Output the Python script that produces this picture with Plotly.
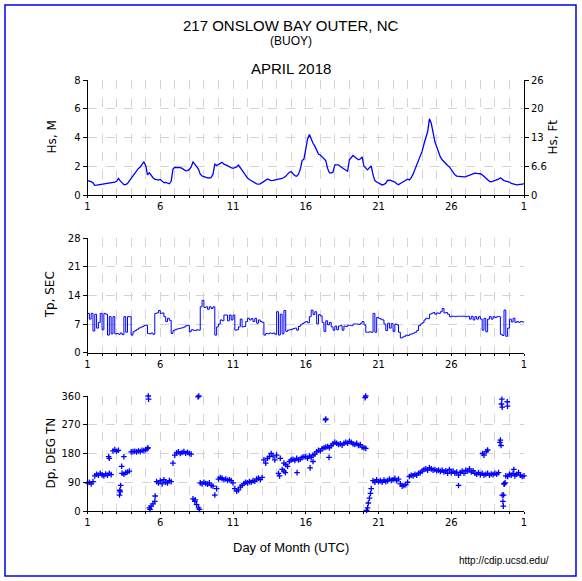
import numpy as np
import plotly.graph_objects as go

# ---------------- data ----------------
day = np.arange(1, 31.0001, 0.125)  # 3-hourly samples, April 1 .. May 1

hs_m = [
    1.00, 0.97, 0.93, 0.85, 0.67, 0.68, 0.70, 0.72,
    0.74, 0.75, 0.78, 0.79, 0.80, 0.82, 0.87, 0.90,
    0.95, 1.15, 0.98, 0.85, 0.72, 0.72, 0.80, 0.98,
    1.16, 1.35, 1.50, 1.68, 1.85, 1.95, 2.10, 2.30,
    2.05, 1.40, 1.55, 1.35, 1.20, 1.10, 1.06, 1.04,
    1.08, 0.95, 0.86, 0.88, 0.82, 0.78, 0.95, 1.80,
    1.93, 1.92, 1.95, 1.90, 1.85, 1.75, 1.68, 1.70,
    1.78, 1.95, 2.30, 2.15, 2.00, 1.80, 1.45, 1.32,
    1.28, 1.22, 1.20, 1.18, 1.22, 1.45, 2.15, 2.05,
    2.10, 2.20, 2.28, 2.15, 2.10, 2.02, 1.98, 1.90,
    1.86, 1.92, 1.95, 2.08, 1.90, 1.75, 1.50, 1.35,
    1.18, 1.08, 1.00, 0.92, 0.85, 0.78, 0.76, 0.78,
    0.86, 0.95, 1.05, 1.12, 1.05, 1.00, 1.02, 1.04,
    1.04, 1.06, 1.09, 1.15, 1.22, 1.30, 1.45, 1.58,
    1.62, 1.45, 1.35, 1.30, 1.45, 1.80, 2.40, 2.50,
    3.13, 3.90, 4.20, 3.85, 3.60, 3.40, 3.05, 2.85,
    2.78, 2.65, 2.55, 2.40, 1.85, 1.55, 1.52, 1.60,
    2.09, 2.12, 2.10, 1.98, 1.90, 1.82, 1.72, 1.65,
    2.45, 2.62, 2.75, 2.65, 2.55, 2.45, 2.50, 2.65,
    2.00, 1.85, 1.75, 1.90, 2.02, 1.40, 1.00, 0.90,
    0.82, 0.75, 0.70, 0.74, 0.82, 1.02, 1.04, 1.00,
    0.97, 0.90, 0.78, 0.72, 0.80, 0.88, 0.93, 1.02,
    1.10, 1.05, 1.20, 1.45, 1.75, 2.10, 2.45, 2.75,
    3.05, 3.55, 3.95, 4.40, 5.30, 5.00, 4.35, 3.70,
    3.36, 3.00, 2.65, 2.45, 2.30, 2.15, 2.05, 1.95,
    1.78, 1.55, 1.40, 1.32, 1.30, 1.28, 1.30, 1.26,
    1.28, 1.32, 1.38, 1.42, 1.48, 1.52, 1.50, 1.50,
    1.48, 1.40, 1.28, 1.15, 1.02, 0.95, 0.92, 0.96,
    0.98, 1.05, 1.10, 1.20, 1.10, 1.00, 0.97, 0.94,
    0.90, 0.80, 0.75, 0.72, 0.70, 0.72, 0.76, 0.76,
    0.78,
]

tp_sec = [
    9.6, 8.2, 9.6, 5.3, 9.4, 6.0, 7.4, 9.6,
    5.6, 9.6, 9.4, 4.3, 8.8, 4.6, 8.8, 4.6,
    4.7, 4.5, 4.8, 4.4, 8.8, 5.0, 8.8, 8.8,
    4.3, 5.1, 5.4, 5.7, 6.0, 6.2, 6.4, 6.6,
    6.7, 4.7, 4.6, 4.8, 4.5, 9.6, 9.7, 10.3,
    9.6, 9.7, 8.8, 7.6, 8.4, 7.9, 4.7, 5.4,
    5.6, 5.8, 5.9, 6.0, 6.1, 6.3, 6.6, 6.7,
    5.1, 5.6, 5.5, 5.4, 5.6, 5.5, 11.2, 12.8,
    11.0, 11.2, 10.6, 11.2, 10.8, 11.2, 4.3, 6.3,
    7.0, 8.0, 7.8, 9.2, 9.2, 7.8, 9.2, 8.0,
    9.2, 5.5, 5.6, 6.3, 8.2, 6.3, 6.4, 7.6,
    8.4, 8.0, 8.3, 7.6, 8.4, 7.2, 8.0, 7.6,
    7.4, 4.3, 4.7, 4.6, 4.8, 4.7, 4.8, 4.5,
    10.0, 4.3, 9.4, 4.6, 10.3, 5.2, 5.5, 5.6,
    5.7, 5.9, 6.0, 5.5, 6.4, 6.8, 7.1, 7.4,
    7.6, 7.3, 8.8, 10.4, 9.3, 10.0, 7.0, 9.3,
    9.0, 7.4, 5.2, 7.8, 6.8, 7.4, 6.3, 5.5,
    6.5, 5.6, 6.5, 6.6, 5.5, 6.5, 6.4, 6.7,
    6.7, 6.6, 7.0, 7.0, 7.0, 6.9, 7.2, 7.6,
    6.8, 5.0, 5.0, 5.1, 5.0, 9.6, 5.0, 8.6,
    8.4, 8.2, 8.0, 7.0, 5.4, 7.2, 6.0, 7.1,
    5.2, 7.0, 6.8, 5.0, 3.6, 3.8, 4.0, 4.3,
    4.2, 4.5, 4.6, 4.8, 5.0, 5.4, 6.6, 7.0,
    7.3, 8.0, 8.4, 8.3, 9.4, 9.6, 9.8, 9.4,
    9.7, 9.6, 10.0, 10.8, 9.7, 9.8, 9.4, 8.8,
    8.9, 8.9, 8.8, 8.9, 8.9, 8.9, 8.9, 8.9,
    8.8, 8.9, 8.2, 8.9, 8.0, 8.8, 8.2, 8.8,
    8.2, 5.5, 8.4, 5.1, 8.2, 8.8, 8.2, 8.8,
    8.6, 8.8, 8.8, 4.5, 4.2, 10.4, 4.0, 6.0,
    8.2, 7.5, 8.4, 7.4, 7.6, 7.4, 7.6, 7.5,
    7.5,
]

dp_deg = [
    87, 90, 85, 92, 110, 115, 112, 118,
    113, 110, 116, 112, 118, 114, 188, 192,
    187, 190, 60, 118, 115, 120, 122, 125,
    185, 186, 187, 185, 188, 186, 190, 189,
    192, 195, 10, 15, 22, 30, 92, 88,
    95, 85, 98, 90, 88, 95, 92, 150,
    175, 182, 185, 180, 183, 186, 181, 184,
    180, 178, 38, 30, 20, 10, 88, 85,
    90, 86, 84, 88, 80, 78, 50, 70,
    100, 105, 102, 98, 100, 96, 98, 95,
    88, 70, 62, 66, 75, 80, 86, 90,
    88, 92, 90, 95, 93, 100, 103, 98,
    105, 160, 150, 165, 170, 180, 172, 160,
    175, 118, 165, 130, 150, 145, 140, 155,
    160, 162, 158, 165, 160, 162, 168, 170,
    170, 165, 172, 168, 175, 178, 185, 190,
    188, 195, 198, 200, 202, 198, 205, 210,
    215, 212, 208, 210, 206, 212, 215, 212,
    218, 215, 210, 208, 212, 205, 208, 200,
    198, 196, 10, 40, 70, 95, 90, 98,
    92, 95, 90, 97, 92, 95, 100, 96,
    98, 102, 95, 100, 85, 78, 80, 82,
    90, 108, 112, 110, 115, 112, 118, 120,
    125, 130, 132, 128, 135, 132, 128, 130,
    126, 128, 124, 128, 122, 126, 118, 130,
    120, 125, 118, 122, 112, 120, 125, 118,
    128, 125, 132, 122, 126, 118, 115, 120,
    114, 118, 112, 115, 118, 112, 116, 114,
    118, 115, 120, 222, 50, 85, 110, 108,
    115, 112, 118, 110, 115, 120, 112, 108,
    110,
]

# scattered extra direction observations
dp_extra_day = [2.45, 2.5, 3.2, 3.22, 3.28, 3.35, 3.5, 5.18, 5.2, 5.3, 5.65, 5.15,
                8.6, 8.65, 8.7, 8.4, 14.2, 14.5, 14.6, 15.4, 16.5, 17.35, 17.38,
                17.6, 16.3, 20.08, 20.12, 20.18, 20.3, 20.45, 26.5, 28.15, 28.25,
                28.4, 28.5, 29.35, 29.42, 29.45, 29.48, 29.5, 29.55, 29.58, 29.6,
                29.65, 29.7, 29.85, 29.87, 30.3]
dp_extra_deg = [170, 165, 50, 65, 80, 140, 170, 360, 350, 5, 47, 198,
                357, 360, 5, 35, 110, 125, 120, 120, 155, 285, 288,
                168, 135, 355, 360, 2, 25, 55, 80, 180, 175,
                186, 191, 215, 205, 335, 350, 325, 30, 15, 50,
                85, 88, 342, 328, 130]

x_tickvals = [1, 6, 11, 16, 21, 26, 31]
x_ticktext = ["1", "6", "11", "16", "21", "26", "1"]
hs_ticks = [0, 2, 4, 6, 8]
hs_ft_text = ["0", "6.6", "13", "20", "26"]
tp_ticks = [0, 7, 14, 21, 28]
dp_ticks = [0, 90, 180, 270, 360]

# ---------------- layout geometry ----------------
W, H = 582, 581
def px_x(p): return p / W
def px_y(p): return 1 - p / H

xdom = [px_x(87.5), px_x(524)]
top_dom = [px_y(195), px_y(80)]
mid_dom = [px_y(352.7), px_y(238)]
bot_dom = [px_y(511), px_y(396)]

BLUE = "#0000ff"
GRID = "#d4d4d4"
tickfont = dict(family="DejaVu Sans", size=10, color="black")

fig = go.Figure()
fig.add_trace(go.Scatter(x=day, y=hs_m, mode="lines", line=dict(color=BLUE, width=1.3),
                         xaxis="x", yaxis="y", showlegend=False, hoverinfo="skip"))
fig.add_trace(go.Scatter(x=[None], y=[None], mode="lines", xaxis="x", yaxis="y2",
                         showlegend=False, hoverinfo="skip"))
fig.add_trace(go.Scatter(x=day, y=tp_sec, mode="lines", line=dict(color=BLUE, width=1, shape="hv"),
                         xaxis="x2", yaxis="y3", showlegend=False, hoverinfo="skip"))
dp_marker = dict(symbol="cross-thin", size=4, color=BLUE, line=dict(width=1.3, color=BLUE))
fig.add_trace(go.Scatter(x=day, y=dp_deg, mode="markers", marker=dp_marker, cliponaxis=False,
                         xaxis="x3", yaxis="y4", showlegend=False, hoverinfo="skip"))
fig.add_trace(go.Scatter(x=dp_extra_day, y=dp_extra_deg, mode="markers", marker=dp_marker,
                         cliponaxis=False, xaxis="x3", yaxis="y4", showlegend=False, hoverinfo="skip"))

def xaxis_cfg(anchor):
    return dict(domain=xdom, anchor=anchor, range=[1, 31], tickvals=x_tickvals, ticktext=x_ticktext,
                showline=True, linecolor="black", linewidth=1, ticks="outside", ticklen=2,
                tickcolor="black", tickfont=tickfont, showgrid=True, gridcolor=GRID,
                griddash="dash", gridwidth=1, zeroline=False, mirror=False, automargin=False,
                minor=dict(tickvals=list(range(1, 32)), ticks="outside", ticklen=2,
                           tickcolor="black", showgrid=True, gridcolor=GRID, griddash="dash"))

def yaxis_cfg(dom, anchor, rng, vals):
    return dict(domain=dom, anchor=anchor, range=rng, tickvals=vals, showline=True,
                linecolor="black", linewidth=1, ticks="outside", ticklen=4, tickcolor="black",
                tickfont=tickfont, showgrid=True, gridcolor=GRID, griddash="dash", gridwidth=1,
                zeroline=False, automargin=False)

fig.update_layout(
    width=W, height=H, margin=dict(l=0, r=0, t=0, b=0, pad=0), autosize=False,
    paper_bgcolor="white", plot_bgcolor="white",
    xaxis=xaxis_cfg("y"),
    xaxis2=xaxis_cfg("y3"),
    xaxis3=xaxis_cfg("y4"),
    yaxis=yaxis_cfg(top_dom, "x", [0, 8], hs_ticks),
    yaxis2=dict(overlaying="y", side="right", anchor="x", range=[0, 8], tickvals=hs_ticks,
                ticktext=hs_ft_text, showline=True, linecolor="black", linewidth=1,
                ticks="outside", ticklen=4, tickcolor="black", tickfont=tickfont,
                showgrid=False, zeroline=False, automargin=False),
    yaxis3=yaxis_cfg(mid_dom, "x2", [0, 28], tp_ticks),
    yaxis4=yaxis_cfg(bot_dom, "x3", [0, 360], dp_ticks),
)

fig.add_shape(type="rect", xref="paper", yref="paper", x0=px_x(5), x1=px_x(576),
              y0=px_y(576), y1=px_y(5), line=dict(color="#0000e6", width=1.5))

title_font = dict(family="Liberation Sans, Arial", color="black")
ann = [
    dict(text="217 ONSLOW BAY OUTER, NC", x=0.5, y=px_y(25), size=15),
    dict(text="(BUOY)", x=0.5, y=px_y(41), size=12),
    dict(text="APRIL 2018", x=0.5, y=px_y(69), size=15),
    dict(text="Day of Month (UTC)", x=0.5, y=px_y(547), size=13),
]
for a in ann:
    fig.add_annotation(text=a["text"], x=a["x"], y=a["y"], xref="paper", yref="paper",
                       xanchor="center", yanchor="middle", showarrow=False,
                       font=dict(size=a["size"], **title_font))
fig.add_annotation(text="http://cdip.ucsd.edu/", x=px_x(551), y=px_y(560), xref="paper",
                   yref="paper", xanchor="right", yanchor="middle", showarrow=False,
                   font=dict(size=10, **title_font))

axis_titles = [
    ("Hs, M", px_x(51), (top_dom[0] + top_dom[1]) / 2),
    ("Hs, Ft", px_x(552), (top_dom[0] + top_dom[1]) / 2),
    ("Tp, SEC", px_x(50), (mid_dom[0] + mid_dom[1]) / 2),
    ("Dp, DEG TN", px_x(50), (bot_dom[0] + bot_dom[1]) / 2),
]
for t, x, y in axis_titles:
    fig.add_annotation(text=t, x=x, y=y, xref="paper", yref="paper", textangle=-90,
                       xanchor="center", yanchor="middle", showarrow=False,
                       font=dict(family="DejaVu Sans", size=12, color="black"))

fig.write_html("out.html", config={"displayModeBar": False},
               post_script="document.body.style.margin='0';document.body.style.overflow='hidden';")
